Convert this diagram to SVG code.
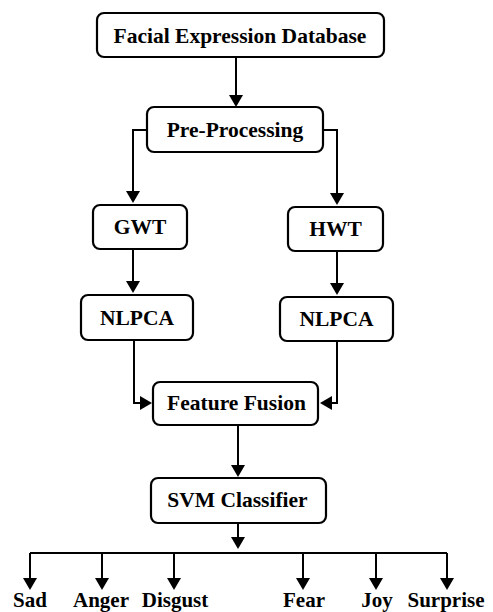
<svg xmlns="http://www.w3.org/2000/svg" width="493" height="612" viewBox="0 0 493 612">
<style>
.box{fill:#fff;stroke:#000;stroke-width:2.2}
.t{fill:#000;text-anchor:middle;font-weight:bold}
.c{fill:none;stroke:#000;stroke-width:2}
</style>
<defs>
<marker id="ah" viewBox="0 0 12 14" refX="1" refY="7" markerWidth="12" markerHeight="14" markerUnits="userSpaceOnUse" orient="auto">
<path d="M0,0 L12,7 L0,14 z" fill="#000"/>
</marker>
</defs>
<rect width="493" height="612" fill="#fff"/>
<g id="connectors">
<path class="c" d="M236,57 V96" marker-end="url(#ah)"/>
<path class="c" d="M147,130 H133 V192" marker-end="url(#ah)"/>
<path class="c" d="M323,130 H337 V194" marker-end="url(#ah)"/>
<path class="c" d="M133,249 V282" marker-end="url(#ah)"/>
<path class="c" d="M337,251 V284" marker-end="url(#ah)"/>
<path class="c" d="M134,340 V403 H141" marker-end="url(#ah)"/>
<path class="c" d="M337,341 V403 H331" marker-end="url(#ah)"/>
<path class="c" d="M238,425 V466" marker-end="url(#ah)"/>
<path class="c" d="M238,523 V538" marker-end="url(#ah)"/>
<path class="c" d="M30,553 H447"/>
<path class="c" d="M30,553 V579" marker-end="url(#ah)"/>
<path class="c" d="M102,553 V579" marker-end="url(#ah)"/>
<path class="c" d="M174,553 V579" marker-end="url(#ah)"/>
<path class="c" d="M303,553 V579" marker-end="url(#ah)"/>
<path class="c" d="M376,553 V579" marker-end="url(#ah)"/>
<path class="c" d="M447,553 V579" marker-end="url(#ah)"/>
</g>
<g id="facial-db"><rect class="box" x="97" y="13" width="287" height="44" rx="7"/><text class="t" font-family="Liberation Serif" font-size="21.5" x="240" y="43">Facial Expression Database</text></g>
<g id="preprocessing"><rect class="box" x="147" y="107" width="176" height="45" rx="7"/><text class="t" font-family="Liberation Serif" font-size="21.5" x="235" y="137">Pre-Processing</text></g>
<g id="gwt"><rect class="box" x="93" y="205" width="94" height="44" rx="7"/><text class="t" font-family="Liberation Serif" font-size="21.5" x="140" y="234">GWT</text></g>
<g id="hwt"><rect class="box" x="288" y="207" width="95" height="44" rx="7"/><text class="t" font-family="Liberation Serif" font-size="21.5" x="335.5" y="236">HWT</text></g>
<g id="nlpca-left"><rect class="box" x="81" y="295" width="112" height="45" rx="7"/><text class="t" font-family="Liberation Serif" font-size="21.5" x="137" y="325">NLPCA</text></g>
<g id="nlpca-right"><rect class="box" x="280" y="297" width="113" height="44" rx="7"/><text class="t" font-family="Liberation Serif" font-size="21.5" x="336.5" y="326">NLPCA</text></g>
<g id="feature-fusion"><rect class="box" x="153" y="382" width="165" height="43" rx="7"/><text class="t" font-family="Liberation Serif" font-size="21.5" x="236.5" y="410">Feature Fusion</text></g>
<g id="svm"><rect class="box" x="151" y="478" width="175" height="45" rx="7"/><text class="t" font-family="Liberation Serif" font-size="21.5" x="237.5" y="507">SVM Classifier</text></g>
<g id="sad"><text class="t" font-family="Liberation Serif" font-size="21" x="30" y="607">Sad</text></g>
<g id="anger"><text class="t" font-family="Liberation Serif" font-size="21" x="101" y="607">Anger</text></g>
<g id="disgust"><text class="t" font-family="Liberation Serif" font-size="21" x="175" y="607">Disgust</text></g>
<g id="fear"><text class="t" font-family="Liberation Serif" font-size="21" x="304" y="607">Fear</text></g>
<g id="joy"><text class="t" font-family="Liberation Serif" font-size="21" x="377" y="607">Joy</text></g>
<g id="surprise"><text class="t" font-family="Liberation Serif" font-size="21" x="446" y="607">Surprise</text></g>
</svg>
